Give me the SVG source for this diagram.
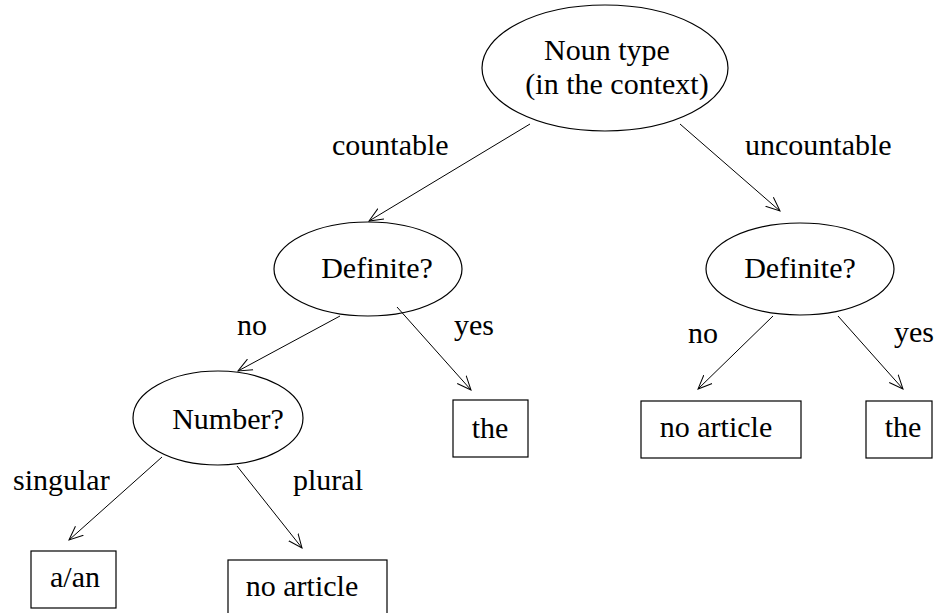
<svg xmlns="http://www.w3.org/2000/svg" width="934" height="613" viewBox="0 0 934 613">
  <style>
    .shape { fill: none; stroke: #000; stroke-width: 1.2; }
    .box { fill: #fff; stroke: #000; stroke-width: 1.2; }
    .t { font-family: "Liberation Serif", "Times New Roman", "DejaVu Serif", serif; font-size: 30px; fill: #000; }
    .c { text-anchor: middle; }
    .edge { fill: none; stroke: #000; stroke-width: 1; marker-end: url(#arrow); }
  </style>
  <defs>
    <marker id="arrow" markerUnits="userSpaceOnUse" markerWidth="16" markerHeight="14" refX="14" refY="6" orient="auto" viewBox="0 0 16 12">
      <path d="M0,0 L14,6 L0,12" fill="none" stroke="#000" stroke-width="1"/>
    </marker>
  </defs>
  <rect width="934" height="613" fill="#fff"/>

  <g id="connectors">
    <line class="edge" x1="530" y1="124" x2="369" y2="221"/>
    <line class="edge" x1="680" y1="124" x2="780" y2="211"/>
    <line class="edge" x1="340" y1="316" x2="238" y2="371"/>
    <line class="edge" x1="397" y1="307" x2="471" y2="390"/>
    <line class="edge" x1="773" y1="316" x2="698" y2="389"/>
    <line class="edge" x1="838" y1="316" x2="903" y2="389"/>
    <line class="edge" x1="162" y1="457" x2="69" y2="540"/>
    <line class="edge" x1="237" y1="466" x2="302" y2="548"/>
  </g>

  <g id="edge-labels">
    <text class="t" x="332" y="155">countable</text>
    <text class="t" x="745" y="155">uncountable</text>
    <text class="t" x="237" y="335">no</text>
    <text class="t" x="454" y="335">yes</text>
    <text class="t" x="688" y="343">no</text>
    <text class="t" x="894" y="342">yes</text>
    <text class="t" x="13" y="490">singular</text>
    <text class="t" x="293" y="490">plural</text>
  </g>

  <g id="noun-type">
    <ellipse class="shape" cx="605" cy="68" rx="123" ry="63"/>
    <text class="t c" x="607" y="60">Noun type</text>
    <text class="t c" x="617" y="94">(in the context)</text>
  </g>

  <g id="definite-countable">
    <ellipse class="shape" cx="368" cy="269" rx="94" ry="47"/>
    <text class="t c" x="377" y="278">Definite?</text>
  </g>

  <g id="definite-uncountable">
    <ellipse class="shape" cx="800" cy="269" rx="94" ry="46"/>
    <text class="t c" x="800" y="278">Definite?</text>
  </g>

  <g id="number">
    <ellipse class="shape" cx="218" cy="418" rx="85" ry="47"/>
    <text class="t c" x="228" y="429">Number?</text>
  </g>

  <g id="the-countable">
    <rect class="box" x="453" y="400" width="75" height="57"/>
    <text class="t c" x="490" y="438">the</text>
  </g>

  <g id="no-article-uncountable">
    <rect class="box" x="641" y="401" width="160" height="57"/>
    <text class="t c" x="716" y="437">no article</text>
  </g>

  <g id="the-uncountable">
    <rect class="box" x="866" y="401" width="66" height="57"/>
    <text class="t c" x="903" y="437">the</text>
  </g>

  <g id="a-an">
    <rect class="box" x="31" y="551" width="85" height="57"/>
    <text class="t c" x="75" y="587">a/an</text>
  </g>

  <g id="no-article-plural">
    <rect class="box" x="228" y="560" width="159" height="60"/>
    <text class="t c" x="302" y="596">no article</text>
  </g>
</svg>
